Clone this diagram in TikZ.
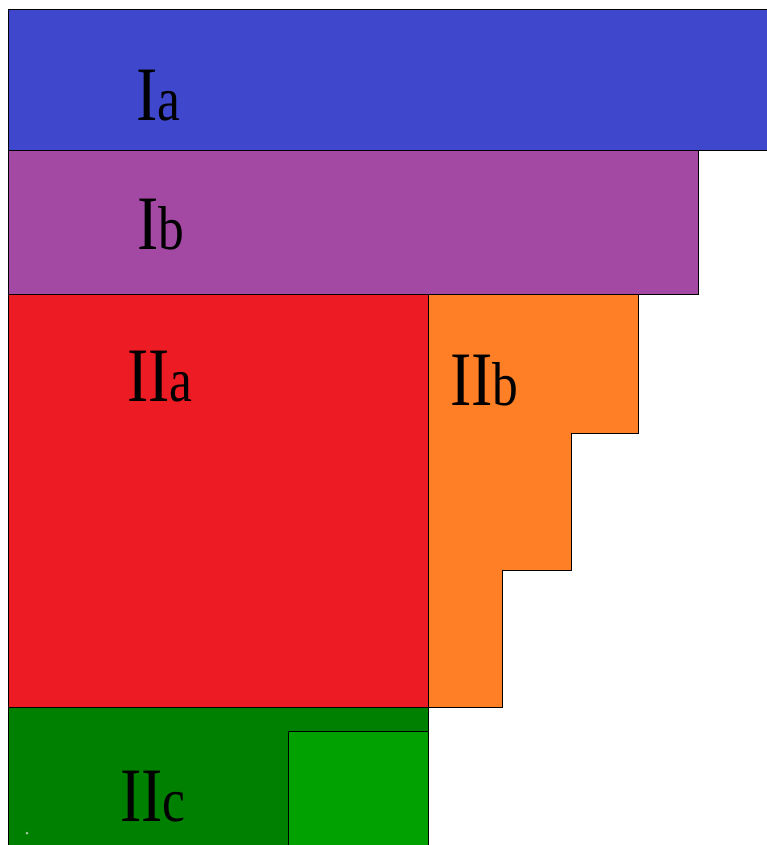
\documentclass[tikz,border=0pt]{standalone}
\usepackage{graphicx}
\usepackage{fontspec}
\setmainfont{Liberation Serif}

\definecolor{blueIa}{RGB}{63,72,204}
\definecolor{purpleIb}{RGB}{163,73,164}
\definecolor{redIIa}{RGB}{237,28,36}
\definecolor{orangeIIb}{RGB}{255,127,39}
\definecolor{darkIIc}{RGB}{0,128,0}
\definecolor{lightIIc}{RGB}{0,161,0}

% roman numeral with a smaller letter, set narrow
\newcommand{\regionlabel}[2]{\scalebox{0.83}[1]{#1{\fontsize{62}{62}\selectfont #2}}}

\tikzset{
  region/.style={draw=black, line width=0.7pt},
  areaname/.style={anchor=base west, inner sep=0pt, font=\fontsize{77}{77}\selectfont}
}

\begin{document}
\begin{tikzpicture}[x=1pt,y=-1pt]
  \useasboundingbox (0,0) rectangle (767,845);
  \clip (0,0) rectangle (767,845);

  % upper bands
  \draw[region, fill=blueIa] (8,9) rectangle (775,150);
  \draw[region, fill=purpleIb] (8,150) rectangle (698,294);

  % middle part
  \draw[region, fill=redIIa] (8,294) rectangle (428,707);
  \draw[region, fill=orangeIIb] (428,294) -- (638,294) -- (638,433) -- (571,433)
    -- (571,570) -- (502,570) -- (502,707) -- (428,707) -- cycle;

  % bottom part
  \draw[region, fill=darkIIc] (8,707) rectangle (428,850);
  \draw[region, fill=lightIIc] (288,731) rectangle (428,850);
  \fill[green!25!gray!60] (27,833) circle (1.5);

  \node[areaname] (ia) at (136,121) {\regionlabel{I}{a}};
  \node[areaname] (ib) at (137,249) {\regionlabel{I}{b}};
  \node[areaname] (iia) at (127,401) {\regionlabel{II}{a}};
  \node[areaname] (iib) at (450,405) {\regionlabel{II}{b}};
  \node[areaname] (iic) at (120,821) {\regionlabel{II}{c}};
\end{tikzpicture}
\end{document}
